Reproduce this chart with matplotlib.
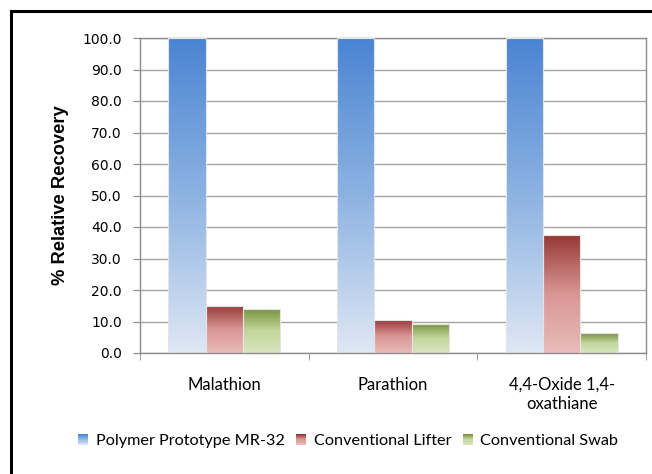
import numpy as np
import matplotlib
matplotlib.use("Agg")
import matplotlib.pyplot as plt
from matplotlib.colors import LinearSegmentedColormap
from matplotlib.patches import Rectangle
from matplotlib.legend_handler import HandlerBase

# recovery data (% relative to prototype)
compounds = ["Malathion", "Parathion", "4,4-Oxide 1,4-\noxathiane"]
series_names = ["Polymer Prototype MR-32", "Conventional Lifter", "Conventional Swab"]
prototype = [100.0, 100.0, 100.0]
lifter = [15.0, 10.6, 37.6]
swab = [14.0, 9.3, 6.3]

# gradient stops per series: top, middle, bottom
grad_stops = [
    ["#4a84d2", "#8db3e2", "#dfe7f4"],
    ["#953735", "#d99694", "#e8bcba"],
    ["#76923c", "#c3d69b", "#d9e6c0"],
]

W, H = 652, 474
fig = plt.figure(figsize=(W / 100, H / 100), dpi=100)
ax = fig.add_axes([140 / W, 1 - 353 / H, 506 / W, 315 / H])

cmaps = [LinearSegmentedColormap.from_list("g%d" % i, s) for i, s in enumerate(grad_stops)]
grad = np.linspace(0, 1, 256).reshape(-1, 1)

x = np.arange(len(compounds))
bw = 0.222
for i, vals in enumerate([prototype, lifter, swab]):
    bars = ax.bar(x + (i - 1) * bw, vals, bw, facecolor="none",
                  edgecolor="#e4e4e4", linewidth=0.8, zorder=3)
    for b in bars:
        x0, h = b.get_x(), b.get_height()
        im = ax.imshow(grad, cmap=cmaps[i], aspect="auto", origin="upper",
                       extent=[x0, x0 + bw, 0, h], zorder=2, interpolation="bilinear")
        im.set_clip_path(b)

ax.set_xlim(-0.5, 2.5)
ax.set_ylim(0, 100)
ax.set_yticks(np.arange(0, 101, 10))
ax.set_yticklabels(["%.1f" % v for v in np.arange(0, 101, 10)],
                   family="DejaVu Sans", fontsize=10)
ax.yaxis.grid(True, color="#a6a6a6", linewidth=1.0, zorder=0)
ax.set_axisbelow(True)

ax.set_xticks(x)
ax.set_xticklabels(compounds, family="Lato", fontsize=12, linespacing=1.25)
ax.set_xticks([-0.5, 0.5, 1.5, 2.5], minor=True)
ax.tick_params(axis="x", which="major", length=0, pad=17)
ax.tick_params(axis="x", which="minor", length=5, color="#8c8c8c")
ax.tick_params(axis="y", length=5, color="#8c8c8c", pad=8)

for s in ax.spines.values():
    s.set_color("#8c8c8c")
    s.set_linewidth(1.0)

ax.set_ylabel("% Relative Recovery", family="Liberation Sans", fontweight="bold",
              fontsize=13.2, labelpad=10)


class GradientHandler(HandlerBase):
    def __init__(self, cmap):
        super().__init__()
        self.cmap = cmap

    def create_artists(self, legend, orig_handle, xdescent, ydescent,
                       width, height, fontsize, trans):
        n = 10
        arts = []
        for k in range(n):
            r = Rectangle((-xdescent, -ydescent + height * (n - 1 - k) / n), width, height / n,
                          facecolor=self.cmap(k / (n - 1)), edgecolor="none", transform=trans)
            arts.append(r)
        return arts


handles = [Rectangle((0, 0), 1, 1) for _ in series_names]
fig.legend(handles, series_names, loc="center", bbox_to_anchor=(348 / W, 1 - 441 / H),
           ncol=3, frameon=False, handlelength=0.65, handleheight=0.65,
           handletextpad=0.45, columnspacing=0.7,
           prop={"family": "Lato", "size": 11.7},
           handler_map={h: GradientHandler(c) for h, c in zip(handles, cmaps)})

# outer chart frame
fig.patches.append(Rectangle((11 / W, -0.1), 2, 1 - 11 / H + 0.1, transform=fig.transFigure,
                             fill=False, edgecolor="black", linewidth=2.2, clip_on=False))

fig.savefig("out.png", dpi=100)
